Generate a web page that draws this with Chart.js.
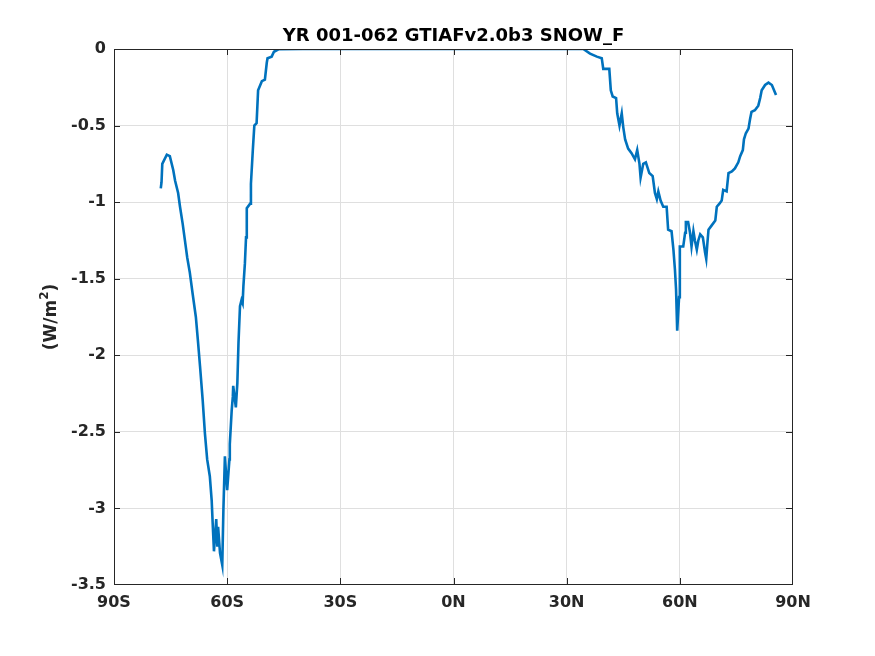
<!DOCTYPE html>
<html><head><meta charset="utf-8">
<script src="https://cdn.jsdelivr.net/npm/chart.js@4/dist/chart.umd.min.js"></script>
<style>html,body{margin:0;padding:0;background:#fff}canvas{display:block}</style>
</head><body>
<canvas id="c" width="875" height="656"></canvas>
<script>
const lats = [-77.6,-77.4,-77.2,-76.0,-75.2,-74.3,-73.8,-73.0,-72.5,-71.8,-71.2,-70.6,-69.9,-69.2,-68.3,-67.7,-67.2,-66.5,-65.9,-65.3,-64.6,-64.1,-63.8,-63.5,-62.9,-62.6,-62.4,-61.9,-61.3,-61.0,-60.6,-60.0,-59.4,-59.3,-58.8,-58.5,-58.4,-57.7,-57.3,-57.0,-56.6,-56.2,-55.9,-55.7,-55.3,-55.0,-54.8,-53.9,-53.7,-53.2,-52.8,-52.2,-51.8,-50.8,-50.0,-49.5,-49.3,-48.2,-47.6,-46.4,-40,-30,-20,-10,0,10,20,30,34.4,36.2,38.0,39.3,39.7,41.3,41.7,42.2,43.1,43.4,44.0,44.6,45.0,45.5,46.3,47.2,48.1,48.7,49.3,49.6,50.3,51.0,51.9,52.8,53.4,53.9,54.3,54.9,55.6,56.5,56.9,57.8,58.3,58.7,59.0,59.3,59.8,60.0,60.9,61.4,61.6,62.2,62.7,63.1,63.6,64.0,64.5,64.9,65.4,66.1,66.7,67.0,67.3,67.6,68.5,69.4,69.8,70.5,71.1,71.5,72.4,72.9,73.8,74.6,75.5,76.0,76.7,77.0,77.5,78.2,78.6,79.0,79.9,80.8,81.3,81.7,82.6,83.5,84.4,85.5];
const snowF = [-0.91,-0.87,-0.75,-0.69,-0.70,-0.79,-0.86,-0.94,-1.03,-1.14,-1.25,-1.36,-1.46,-1.59,-1.75,-1.92,-2.07,-2.29,-2.51,-2.68,-2.79,-2.95,-3.12,-3.28,-3.07,-3.25,-3.12,-3.29,-3.37,-3.01,-2.66,-2.88,-2.68,-2.58,-2.36,-2.27,-2.20,-2.34,-2.18,-1.92,-1.68,-1.64,-1.66,-1.55,-1.40,-1.23,-1.04,-1.01,-0.88,-0.66,-0.50,-0.485,-0.27,-0.21,-0.20,-0.09,-0.06,-0.05,-0.018,-0.002,0,0,0,0,0,0,0,0,0,-0.03,-0.05,-0.06,-0.13,-0.13,-0.27,-0.31,-0.32,-0.42,-0.50,-0.42,-0.51,-0.59,-0.65,-0.68,-0.72,-0.66,-0.75,-0.84,-0.75,-0.74,-0.81,-0.83,-0.94,-0.98,-0.93,-0.99,-1.03,-1.03,-1.18,-1.19,-1.31,-1.44,-1.57,-1.84,-1.62,-1.29,-1.29,-1.20,-1.13,-1.13,-1.20,-1.29,-1.19,-1.25,-1.31,-1.25,-1.21,-1.23,-1.33,-1.37,-1.27,-1.18,-1.15,-1.12,-1.03,-1.01,-0.99,-0.92,-0.93,-0.81,-0.80,-0.78,-0.74,-0.70,-0.66,-0.59,-0.55,-0.52,-0.46,-0.41,-0.40,-0.37,-0.32,-0.27,-0.235,-0.22,-0.235,-0.30];
const xTickValues = [-90,-60,-30,0,30,60,90];
const xTickLabels = ['90S','60S','30S','0N','30N','60N','90N'];
const yTickValues = [0,-0.5,-1,-1.5,-2,-2.5,-3,-3.5];
const yTickLabels = ['0','-0.5','-1','-1.5','-2','-2.5','-3','-3.5'];
const titleText = 'YR 001-062 GTIAFv2.0b3 SNOW_F';
const yTitleParts = ['(W/m', '2', ')'];

const fontFam = 'DejaVu Sans, sans-serif';
const pts = lats.map((x,i)=>({x:x,y:snowF[i]}));
const gridCol = (ctx)=>{ const t=ctx.tick; if(!t) return '#dfdfdf'; const s=ctx.scale; return (t.value===s.min||t.value===s.max)?'rgba(0,0,0,0)':'#dfdfdf'; };

const boxPlugin = {
  id:'box',
  afterDraw(chart){
    const {ctx, chartArea:a, scales} = chart;
    ctx.save();
    ctx.strokeStyle = '#262626';
    ctx.lineWidth = 1;
    ctx.strokeRect(a.left+0.5, a.top+0.5, a.right-a.left-1, a.bottom-a.top-1);
    ctx.beginPath();
    const tl = 6;
    xTickValues.forEach(v=>{
      const px = Math.min(a.right-0.5, Math.round(scales.x.getPixelForValue(v))+0.5);
      ctx.moveTo(px,a.bottom-1); ctx.lineTo(px,a.bottom-1-tl);
      ctx.moveTo(px,a.top); ctx.lineTo(px,a.top+tl);
    });
    yTickValues.forEach(v=>{
      const py = Math.min(a.bottom-0.5, Math.round(scales.y.getPixelForValue(v))+0.5);
      ctx.moveTo(a.left,py); ctx.lineTo(a.left+tl,py);
      ctx.moveTo(a.right-1,py); ctx.lineTo(a.right-1-tl,py);
    });
    ctx.stroke();
    // title
    ctx.fillStyle = '#000';
    ctx.font = 'bold 18px ' + fontFam;
    ctx.textAlign = 'center';
    ctx.textBaseline = 'middle';
    ctx.fillText(titleText, (a.left+a.right)/2, 36);
    // y title with superscript
    const fMain = 'bold 17px ' + fontFam, fSup = 'bold 12px ' + fontFam;
    ctx.font = fMain; const w0 = ctx.measureText(yTitleParts[0]).width, w2 = ctx.measureText(yTitleParts[2]).width;
    ctx.font = fSup; const w1 = ctx.measureText(yTitleParts[1]).width;
    const total = w0 + w1 + w2;
    ctx.translate(56, (a.top+a.bottom)/2);
    ctx.rotate(-Math.PI/2);
    ctx.fillStyle = '#262626';
    ctx.textAlign = 'left';
    ctx.textBaseline = 'alphabetic';
    let x = -total/2;
    ctx.font = fMain; ctx.fillText(yTitleParts[0], x, 0); x += w0;
    ctx.font = fSup; ctx.fillText(yTitleParts[1], x, -8); x += w1;
    ctx.font = fMain; ctx.fillText(yTitleParts[2], x, 0);
    ctx.restore();
  }
};

new Chart(document.getElementById('c'), {
  type:'line',
  data:{datasets:[{data:pts, borderColor:'#0072BD', borderWidth:2.6, pointRadius:0, tension:0, fill:false}]},
  options:{
    responsive:false, animation:false, devicePixelRatio:1,
    layout:{padding:{left:0,right:82,top:49,bottom:0}},
    plugins:{ legend:{display:false}, tooltip:{enabled:false}, title:{display:false} },
    scales:{
      x:{type:'linear', min:-90, max:90,
        afterBuildTicks(s){ s.ticks = xTickValues.map(v=>({value:v})); },
        afterFit(s){ s.height = 71; },
        grid:{color:gridCol, drawTicks:false},
        border:{display:false},
        ticks:{padding:8, color:'#262626', font:{family:fontFam,size:16,weight:'bold'},
          callback:(v)=>{const i=xTickValues.indexOf(v); return i>=0?xTickLabels[i]:'';}}
      },
      y:{type:'linear', min:-3.5, max:0,
        afterBuildTicks(s){ s.ticks = yTickValues.map(v=>({value:v})); },
        afterFit(s){ s.width = 114; },
        grid:{color:gridCol, drawTicks:false},
        border:{display:false},
        ticks:{padding:8, color:'#262626', font:{family:fontFam,size:16,weight:'bold'},
          callback:(v)=>{const i=yTickValues.indexOf(v); return i>=0?yTickLabels[i]:'';}}
      }
    }
  },
  plugins:[boxPlugin]
});
</script>
</body></html>
